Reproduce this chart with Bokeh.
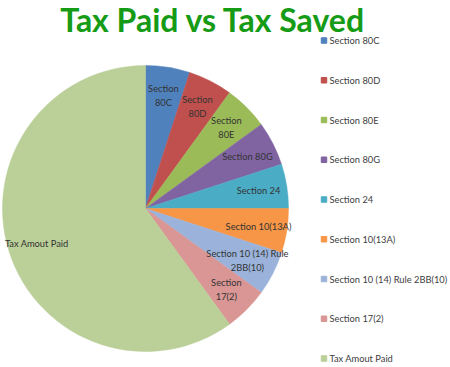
import numpy as np
from bokeh.plotting import figure
from bokeh.models import Range1d, ColumnDataSource
from bokeh.core.properties import value
from bokeh.embed import file_html
from bokeh.resources import INLINE

# ---- data ----
categories = ["Section 80C", "Section 80D", "Section 80E", "Section 80G", "Section 24",
              "Section 10(13A)", "Section 10 (14) Rule 2BB(10)", "Section 17(2)", "Tax Amout Paid"]
values = [5, 5, 5, 5, 5, 5, 5, 5, 60]
pie_labels = ["Section\n80C", "Section\n80D", "Section\n80E", "Section 80G", "Section 24",
              "Section 10(13A)", "Section 10 (14) Rule\n2BB(10)", "Section\n17(2)", "Tax Amout Paid"]
colors = ["#4F81BD", "#C0504D", "#9BBB59", "#8064A2", "#4BACC6",
          "#F79646", "#9BB3DA", "#D99694", "#BBCF99"]
title_text = "Tax Paid vs Tax Saved"

FONT = "Lato"
W, H = 450, 367
p = figure(width=W, height=H, x_range=Range1d(0, W), y_range=Range1d(0, H),
           output_backend="svg", toolbar_location=None, min_border=0)
p.axis.visible = False
p.grid.visible = False
p.outline_line_color = None
p.background_fill_color = "white"
p.border_fill_color = "white"


def Y(py):
    return H - py


# ---- pie ----
cx, cy, R = 145, Y(208), 143
vals = np.array(values, dtype=float)
frac = vals / vals.sum()
cum = np.concatenate([[0.0], np.cumsum(frac)])
start = np.pi / 2 - 2 * np.pi * cum[1:]
end = np.pi / 2 - 2 * np.pi * cum[:-1]
mid = np.pi / 2 - 2 * np.pi * (cum[:-1] + cum[1:]) / 2

src = ColumnDataSource(dict(start=start, end=end, color=colors, cat=categories))
p.wedge(x=cx, y=cy, radius=R, start_angle="start", end_angle="end",
        fill_color="color", line_color="color", line_width=0.5, source=src)

lr = 0.8 * R
lab = ColumnDataSource(dict(x=cx + lr * np.cos(mid), y=cy + lr * np.sin(mid), t=pie_labels))
p.text(x="x", y="y", text="t", source=lab, text_align="center", text_baseline="middle",
       text_font=value(FONT), text_font_size="9.3px", text_color="#333333",
       text_line_height=1.22)

# ---- title ----
p.text(x=[212.5], y=[Y(19)], text=[title_text], text_align="center", text_baseline="alphabetic",
       text_font=value(FONT), text_font_style="bold", text_font_size="32px",
       text_color="#169B16")

# ---- legend ----
n = len(categories)
ly = np.array([Y(40 + i * 39.75) for i in range(n)])
p.scatter(x=[323.5] * n, y=ly, marker="square", size=5.5, fill_color=colors, line_color=colors)
p.text(x=[329] * n, y=ly, text=categories, text_align="left", text_baseline="middle",
       text_font=value(FONT), text_font_size="9.3px", text_color="#404040")

open("out.html", "w").write(file_html(p, INLINE))
